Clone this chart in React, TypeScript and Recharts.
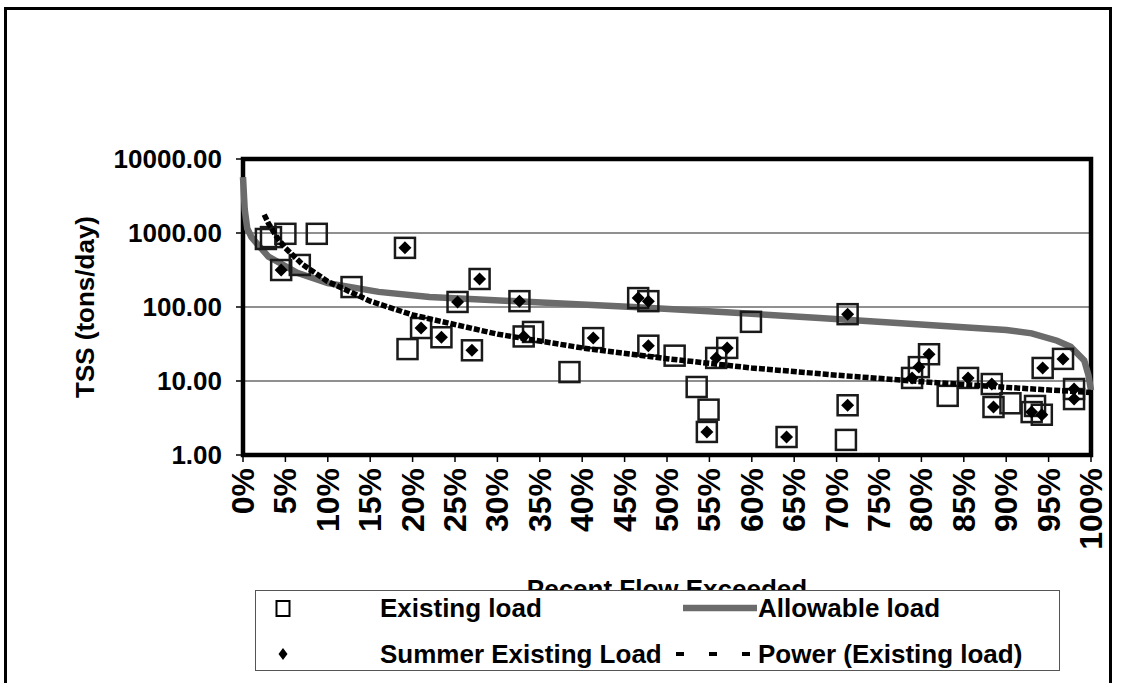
import React from 'react';
import {
  ScatterChart,
  Scatter,
  XAxis,
  YAxis,
  CartesianGrid,
  ReferenceArea,
} from 'recharts';

// Percent flow exceeded (%) and TSS load (tons/day)
const existingX = [
  2.7, 3.3, 5.0, 8.7, 4.5, 6.7, 12.8, 19.1, 21.0, 19.4, 23.4, 25.3, 27.0, 27.9, 32.6, 33.1,
  34.2, 38.5, 41.3, 46.6, 47.8, 47.8, 50.9, 53.5, 54.9, 54.7, 55.8, 57.1, 59.9, 64.1, 71.3,
  71.3, 71.1, 78.9, 79.7, 80.9, 83.1, 85.5, 88.3, 88.5, 90.5, 93.0, 93.4, 94.2, 94.3, 96.7,
  98.0, 98.0,
];
const existingY = [
  830, 880, 975, 975, 316, 370, 186, 630, 52, 27, 39, 117, 26, 239, 120, 40,
  46, 13.2, 38, 132, 120, 30, 22, 8.3, 4.1, 2.05, 20.5, 28, 63, 1.75, 80,
  4.7, 1.6, 11, 15.4, 23, 6.3, 11, 9.1, 4.45, 5.0, 3.8, 4.6, 3.5, 15, 19.9,
  7.8, 5.7,
];

const summerX = [
  4.5, 19.1, 21.0, 23.4, 25.3, 27.0, 27.9, 32.6, 33.1, 41.3, 46.6, 47.8, 47.8, 54.7, 55.8,
  57.1, 64.1, 71.3, 71.3, 78.9, 79.7, 80.9, 85.5, 88.3, 88.5, 93.0, 94.2, 94.3, 96.7, 98.0, 98.0,
];
const summerY = [
  316, 630, 52, 39, 117, 26, 239, 120, 40, 38, 132, 120, 30, 2.05, 20.5,
  28, 1.75, 80, 4.7, 11, 15.4, 23, 11, 9.1, 4.45, 3.8, 3.5, 15, 19.9, 7.8, 5.7,
];

const allowableX = [0, 0.2, 0.5, 1, 1.6, 3, 4.4, 6.4, 10, 16, 22, 34, 46, 57, 68, 79, 90, 93, 96, 97.6, 99.2, 99.7, 100];
const allowableY = [5700, 2100, 1150, 880, 730, 480, 390, 290, 210, 160, 137, 117, 100, 85, 71, 59, 49, 44, 35, 29, 19, 12, 7.5];

const powerX = [2.5, 3, 4, 5, 7, 10, 15, 20, 30, 40, 50, 60, 70, 80, 90, 100];
const powerY = [1770, 1350, 875, 626, 378, 221, 120, 78, 43, 28, 20, 15, 12, 9.8, 8.2, 7];

const xTicks = [0, 5, 10, 15, 20, 25, 30, 35, 40, 45, 50, 55, 60, 65, 70, 75, 80, 85, 90, 95, 100];
const yTicks = [1, 10, 100, 1000, 10000];

const existingData = existingX.map((x, i) => ({ x, y: existingY[i] }));
const summerData = summerX.map((x, i) => ({ x, y: summerY[i] }));
const allowableData = allowableX.map((x, i) => ({ x, y: allowableY[i] }));
const powerData = powerX.map((x, i) => ({ x, y: powerY[i] }));

const FONT = '"Liberation Sans", Arial, sans-serif';

const SquareMark = (props: any) => {
  const { cx, cy } = props;
  if (cx == null || cy == null) return null;
  return <rect x={cx - 10} y={cy - 10} width={20} height={20} fill="none" stroke="#1a1a1a" strokeWidth={2.5} />;
};

const DiamondMark = (props: any) => {
  const { cx, cy } = props;
  if (cx == null || cy == null) return null;
  return <path d={`M${cx},${cy - 6.5} L${cx + 6.5},${cy} L${cx},${cy + 6.5} L${cx - 6.5},${cy} Z`} fill="#000" />;
};

const NoMark = () => null;

// rotated percent labels, centred on the tick
const PercentTick = (props: any) => {
  const { x, y, payload } = props;
  return (
    <text
      x={x}
      y={y}
      transform={`rotate(-90 ${x} ${y})`}
      textAnchor="end"
      dominantBaseline="central"
      fill="#000"
      fontSize={32}
      fontWeight={700}
      fontFamily={FONT}
    >
      {`${payload.value}%`}
    </text>
  );
};

const App: React.FC = () => {
  return (
    <div style={{ position: 'absolute', left: 0, top: 0, width: 1125, height: 683, overflow: 'hidden', background: '#fff', fontFamily: FONT }}>
      <div style={{ position: 'absolute', left: 4, top: 7, width: 1108, height: 700, border: '3px solid #000', boxSizing: 'border-box' }} />
      <div style={{ position: 'absolute', left: 0, top: 0 }}>
        <ScatterChart width={1125} height={683} margin={{ top: 159, right: 34, bottom: 118, left: 93 }}>
          <CartesianGrid vertical={false} stroke="#222" strokeWidth={1.2} />
          <XAxis
            type="number"
            dataKey="x"
            domain={[0, 100]}
            ticks={xTicks}
            interval={0}
            height={110}
            tickSize={7}
            tickMargin={6}
            axisLine={false}
            tickLine={{ stroke: '#000', strokeWidth: 1.5 }}
            tick={<PercentTick />}
            label={{
              value: 'Pecent Flow Exceeded',
              position: 'insideBottom',
              offset: -33,
              fill: '#000',
              fontSize: 26,
              fontWeight: 700,
              fontFamily: FONT,
            }}
          />
          <YAxis
            type="number"
            dataKey="y"
            scale="log"
            domain={[1, 10000]}
            ticks={yTicks}
            allowDataOverflow
            width={150}
            tickFormatter={(v: number) => v.toFixed(2)}
            tickSize={7}
            tickMargin={14}
            axisLine={false}
            tickLine={{ stroke: '#000', strokeWidth: 1.5 }}
            tick={{ fill: '#000', fontSize: 26, fontWeight: 700, fontFamily: FONT }}
            label={{
              value: 'TSS (tons/day)',
              angle: -90,
              position: 'insideLeft',
              offset: 0,
              fill: '#000',
              fontSize: 26,
              fontWeight: 700,
              fontFamily: FONT,
              style: { textAnchor: 'middle' },
              dx: -8,
            }}
          />
          <ReferenceArea x1={0} x2={100} y1={1} y2={10000} fill="none" stroke="#000" strokeWidth={4.5} ifOverflow="visible" />
          <Scatter
            name="Allowable load"
            data={allowableData}
            line={{ stroke: '#6b6b6b', strokeWidth: 6.5 }}
            lineType="joint"
            shape={NoMark}
            isAnimationActive={false}
          />
          <Scatter
            name="Existing load"
            data={existingData}
            shape={SquareMark}
            isAnimationActive={false}
          />
          <Scatter
            name="Power (Existing load)"
            data={powerData}
            line={{ stroke: '#000', strokeWidth: 5.5, strokeDasharray: '6 2' }}
            lineType="joint"
            shape={NoMark}
            isAnimationActive={false}
          />
          <Scatter
            name="Summer Existing Load"
            data={summerData}
            shape={DiamondMark}
            isAnimationActive={false}
          />
        </ScatterChart>
      </div>
      <div
        style={{
          position: 'absolute',
          left: 255,
          top: 590,
          width: 805,
          height: 81,
          border: '1.5px solid #555',
          background: '#fff',
          boxSizing: 'border-box',
        }}
      >
        <svg width={805} height={81} style={{ position: 'absolute', left: -1.5, top: -1.5 }}>
          <rect x={21.5} y={11} width={13} height={15} fill="none" stroke="#000" strokeWidth={2} />
          <path d="M28,58 L32.5,64 L28,70 L23.5,64 Z" fill="#000" />
          <line x1={428} y1={18} x2={502} y2={18} stroke="#6b6b6b" strokeWidth={6.5} />
          <line x1={421} y1={64} x2={495} y2={64} stroke="#000" strokeWidth={4} strokeDasharray="8 25" />
          <text x={125} y={27} fontSize={26} fontWeight={700} fontFamily={FONT}>Existing load</text>
          <text x={503} y={27} fontSize={26} fontWeight={700} fontFamily={FONT}>Allowable load</text>
          <text x={125} y={73} fontSize={26} fontWeight={700} fontFamily={FONT}>Summer Existing Load</text>
          <text x={503} y={73} fontSize={26} fontWeight={700} fontFamily={FONT}>Power (Existing load)</text>
        </svg>
      </div>
    </div>
  );
};

export default App;
